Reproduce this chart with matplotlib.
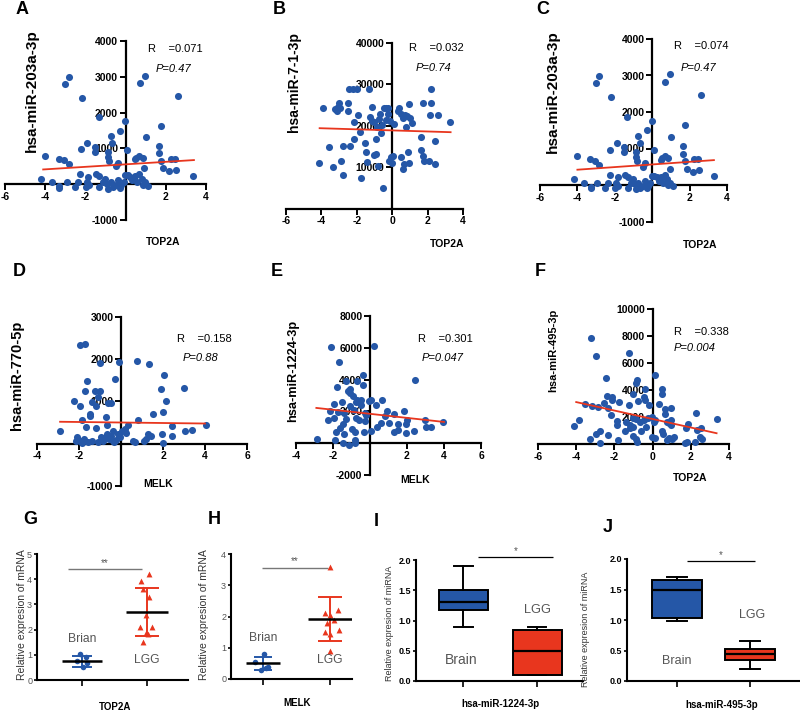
import numpy as np
import matplotlib
matplotlib.use("Agg")
import matplotlib.pyplot as plt

plt.rcParams["font.family"] = ["Liberation Sans", "DejaVu Sans"]

# ---- scatter data ----
# A / C : TOP2A vs hsa-miR-203a-3p
a_x = [-3.03, -2.82, -2.18, -1.34, -0.27, -0.02, 0.71, 0.96, 2.59, 1.75,
       1.01, -0.74, -1.90, -2.24, -1.51, -1.51, -0.67, -0.87, 0.07, -4.00,
       -3.33, -3.06, -2.82, -0.89, -0.81, -0.39, -0.50, 0.54, 0.67, 0.87,
       0.47, 0.94, 1.66, 1.65, 1.75, 1.85, 2.25, 2.45, 2.18, 2.49,
       3.33, -4.20, -3.66, -3.29, -3.29, -2.94, -2.52, -2.39, -2.25, -1.98,
       -1.92, -1.85, -1.48, -1.31, -1.31, -1.11, -1.01, -0.94, -0.87, -0.74,
       -0.64, -0.47, -0.37, -0.24, -0.10, -0.03, 0.10, 0.24, 0.34, 0.45,
       0.57, 0.67, 0.81, 0.97, 1.13, 0.87, -0.30, -1.82]
a_y = [2790, 2990, 2420, 1870, 1495, 1766, 2813, 3028, 2467, 1636,
       1318, 1336, 1140, 972, 1047, 906, 1140, 906, 953, 794,
       710, 664, 561, 766, 645, 598, 505, 729, 794, 729,
       692, 439, 1075, 860, 645, 439, 710, 710, 355, 402,
       234, 159, 65, -47, -93, 65, -75, 56, 280, -75,
       65, 206, 280, 224, -75, 65, 159, 19, -121, 65,
       -75, -28, 112, -28, 65, 252, 252, 206, 112, 224,
       65, 280, 159, 65, -37, -9, -93, -28]

# B : TOP2A vs hsa-miR-7-1-3p
b_x = [-4.11, -3.89, -3.59, -3.33, -3.21, -3.05, -3.10, -2.95, -3.00, -2.92,
       -2.77, -2.77, -2.50, -2.50, -2.39, -2.43, -2.21, -1.98, -2.17, -2.13,
       -1.91, -1.83, -1.79, -1.53, -1.50, -1.42, -1.31, -1.27, -1.16, -1.12,
       -1.01, -0.93, -0.90, -0.86, -1.01, -0.80, -0.75, -0.67, -0.60, -0.52,
       -0.64, -0.49, -0.37, -0.26, -0.34, -0.22, -0.11, -0.19, -0.07, 0.00,
       0.04, 0.11, 0.34, 0.41, 0.49, 0.52, 0.60, 0.67, 0.60, 0.71,
       0.79, 0.82, 0.93, 0.93, 0.90, 1.01, 1.12, 1.61, 1.64, 1.72,
       1.79, 1.72, 2.09, 2.17, 2.21, 2.13, 2.39, 2.43, 2.56, 3.25]
b_y = [11050, 24350, 14840, 10160, 24110, 24600, 23700, 24300, 25480, 11450,
       8150, 15080, 25480, 23470, 15160, 28870, 28870, 28870, 21050, 16850,
       22660, 18630, 7340, 15800, 13790, 11370, 28870, 22100, 24440, 21290,
       13060, 13230, 16850, 19680, 20890, 10400, 21690, 22900, 20320, 4920,
       18230, 24350, 24350, 24350, 21450, 22740, 21290, 11610, 12420, 11130,
       12820, 20400, 23470, 24350, 22900, 12420, 9600, 10810, 21930, 22500,
       19840, 22260, 25320, 10970, 13630, 21930, 20650, 17260, 14190, 12740,
       11450, 25480, 11450, 25480, 28870, 22580, 16450, 10810, 22660, 21050]

# D : MELK vs hsa-miR-770-5p
d_x = [-1.94, -1.71, -1.02, -0.10, 0.76, 1.35, 2.06, 2.98, 1.90, 2.16,
       1.98, 1.52, -1.62, -0.27, -1.71, -1.24, -1.02, -1.11, -2.25, -1.97,
       -1.40, -1.17, -0.63, -0.48, -1.49, -1.46, -1.87, -0.70, 0.79, 4.03,
       3.37, 3.05, 2.41, 2.44, -2.89, -1.65, -1.21, -0.67, -0.38, 0.03,
       0.32, 0.19, 1.43, 1.27, 1.97, -2.10, -1.97, -1.75, -1.56, -1.40,
       -1.11, -0.95, -0.86, -0.67, -0.57, -0.48, -0.32, -0.16, -0.06, 0.56,
       0.67, 1.08, 1.17, 2.00, -2.13, -1.84, -0.79, -0.22, 0.24, -0.40]
d_y = [2330, 2370, 1900, 1940, 1950, 1880, 1620, 1310, 1290, 1020,
       750, 690, 1480, 1530, 1240, 1250, 1240, 1100, 1020, 900,
       980, 900, 960, 960, 710, 660, 560, 630, 550, 450,
       330, 290, 410, 170, 290, 400, 370, 450, 310, 310,
       430, 350, 190, 230, 230, 150, 70, 110, 30, 70,
       30, 150, 70, 230, 110, 190, 30, 230, 150, 70,
       30, 70, 110, 10, 60, 20, 140, 90, 260, 50]

# E : MELK vs hsa-miR-1224-3p
e_x = [-2.11, 0.21, -1.66, 2.41, -1.79, -1.29, -1.18, -1.07, -0.68, -0.39,
       -0.36, -0.93, -0.61, -0.54, -0.46, -0.75, -1.93, -1.50, -1.07, -0.89,
       -0.04, 0.07, 0.32, 0.64, -2.14, -1.71, -2.29, -1.96, -1.39, -1.29,
       -0.75, -0.57, -0.21, -0.25, 0.93, 1.32, 1.86, 0.79, 0.57, 0.39,
       1.04, 1.50, 2.00, 1.96, 2.98, 3.96, 3.02, 3.29, 2.39, 1.93,
       1.29, 1.50, 0.04, -0.32, -0.79, -1.46, -1.61, -1.82, -1.39, -1.00,
       -2.89, -1.89, -1.48, -1.11, -0.79, -0.82, -0.68, -1.07, -0.50, -0.29]
e_y = [6060, 6100, 5080, 3980, 3520, 3920, 3270, 3400, 3900, 4270,
       3630, 2940, 2630, 2520, 2380, 2560, 2480, 2560, 2310, 2060,
       2630, 2730, 2420, 2730, 2000, 1980, 1480, 1600, 1900, 1520,
       1580, 1480, 1790, 1400, 2040, 1850, 2000, 1690, 1270, 1020,
       1270, 1210, 1420, 1170, 1440, 1350, 980, 980, 770, 650,
       690, 810, 730, 690, 690, 1170, 960, 690, 600, 860,
       270, 190, 20, -100, 190, -20, 2730, 3150, 2690, 1900]

# F : TOP2A vs hsa-miR-495-3p
f_x = [-3.21, -2.95, -1.26, 0.12, -2.46, -0.84, -0.88, 0.47, 0.49, -2.39,
       -2.14, -2.11, -1.05, -0.42, -0.46, -0.39, -0.74, -1.75, -2.53, -3.54,
       -3.19, -2.84, -2.35, -1.23, -0.21, 0.32, 0.63, 0.98, 0.63, -2.18,
       -1.86, -1.89, -1.40, -1.19, -1.05, -0.88, -0.67, -0.46, -0.25, -0.04,
       0.07, 0.14, -1.44, -1.16, -1.02, -0.63, -0.32, -3.86, -4.11, -2.74,
       -2.98, -2.35, -3.30, -2.74, -1.82, -0.88, -0.81, -1.05, -0.04, 0.11,
       0.49, 0.56, 0.74, 0.84, 1.02, 1.12, 0.88, 0.95, 0.74, 0.95,
       1.75, 1.86, 1.68, 1.82, 2.21, 2.26, 2.32, 2.54, 2.49, 2.60, 3.37]
f_y = [7880, 6510, 6710, 5140, 4860, 4770, 4520, 4100, 3730, 3550,
       3450, 3250, 3700, 4100, 3450, 3250, 3180, 3110, 3030, 2980,
       2800, 2730, 2680, 2860, 2910, 2980, 2610, 2680, 2190, 2140,
       1740, 1440, 1620, 1390, 1940, 1840, 1620, 1790, 1940, 1990,
       1620, 1790, 990, 1190, 1290, 940, 1290, 1810, 1340, 970,
       750, 700, 350, 70, 320, 370, 120, 570, 520, 470,
       940, 750, 300, 470, 370, 520, 1540, 1790, 1620, 1390,
       1190, 1490, 50, 120, 150, 2310, 1040, 1190, 520, 370, 1860]

# fitted lines: (slope, intercept) and x span
fit_a, span_a = (35, 555), (-4.1, 3.4)
fit_b, span_b = (-130, 18900), (-4.1, 3.3)
fit_c, span_c = (36, 563), (-4.0, 3.3)
fit_d, span_d = (-6, 500), (-2.9, 4.0)
fit_e, span_e = (-128, 1840), (-2.9, 4.0)
fit_f, span_f = (-314, 1850), (-4.0, 3.35)

stats_text = {"A": ("0.071", "0.47"), "B": ("0.032", "0.74"), "C": ("0.074", "0.47"),
              "D": ("0.158", "0.88"), "E": ("0.301", "0.047"), "F": ("0.338", "0.004")}

# ---- qPCR dot plots (G, H) ----
g_brain_y = [1.03, 0.91, 0.75, 0.67, 0.52]
g_brain_dx = [-0.03, 0.06, -0.08, 0.08, 0.02]
g_lgg_y = [4.20, 3.93, 3.60, 3.30, 2.58, 2.10, 2.10, 1.87, 1.82, 1.50]
g_lgg_dx = [0.03, -0.09, -0.06, 0.03, -0.02, -0.11, 0.08, -0.02, 0.02, -0.06]
g_mean = [0.74, 2.70]
g_sd = [0.215, 0.97]

h_brain_y = [0.80, 0.55, 0.40, 0.35, 0.30]
h_brain_dx = [0.01, -0.12, 0.07, 0.04, -0.03]
h_lgg_y = [3.58, 2.20, 2.10, 2.05, 1.90, 1.80, 1.57, 1.50, 1.45, 0.90]
h_lgg_dx = [0.00, 0.12, -0.08, 0.00, 0.06, -0.05, 0.13, -0.08, 0.00, 0.00]
h_mean = [0.50, 1.92]
h_sd = [0.20, 0.70]

# ---- box plots (I, J): whislo, q1, med, q3, whishi ----
i_brain = [0.90, 1.17, 1.30, 1.51, 1.90]
i_lgg = [0.10, 0.10, 0.50, 0.85, 0.90]
j_brain = [0.98, 1.03, 1.50, 1.65, 1.70]
j_lgg = [0.20, 0.35, 0.45, 0.52, 0.66]

BLUE = "#2557a7"
RED = "#e8361e"
GREY = "#555555"
W, H = 800, 714

fig = plt.figure(figsize=(8, 7.14), dpi=100)


def rect(x0, x1, y0, y1):
    # pixel box -> figure fraction
    return [x0 / W, 1 - y1 / H, (x1 - x0) / W, (y1 - y0) / H]


def ftext(x, y, s, **kw):
    kw.setdefault("ha", "center")
    kw.setdefault("va", "center")
    fig.text(x / W, 1 - y / H, s, **kw)


def scatter_panel(r, xs, ys, xlim, ylim, xt, xl, yt, yl, fit, span):
    ax = fig.add_axes(r)
    ax.patch.set_visible(False)
    ax.set_xlim(xlim)
    ax.set_ylim(ylim)
    ax.spines["top"].set_visible(False)
    ax.spines["right"].set_visible(False)
    ax.spines["left"].set_position(("data", 0))
    ax.spines["bottom"].set_position(("data", 0))
    for s in ("left", "bottom"):
        ax.spines[s].set_linewidth(1.6)
    ax.set_xticks(xt, xl)
    ax.set_yticks(yt, yl)
    ax.tick_params(width=1.4, length=4, labelsize=7.5, pad=1.5)
    for lab in ax.get_xticklabels() + ax.get_yticklabels():
        lab.set_fontweight("bold")
    ax.scatter(xs, ys, s=26, color=BLUE, linewidths=0, zorder=3, clip_on=False)
    fx = np.array(span)
    ax.plot(fx, fit[0] * fx + fit[1], color=RED, lw=1.3, zorder=4)
    return ax


def labs(ticks, hide=(0,)):
    return ["" if t in hide else str(t) for t in ticks]


xt6 = [-6, -4, -2, 0, 2, 4]
xt4 = [-4, -2, 0, 2, 4, 6]

# A
yt = [-1000, 0, 1000, 2000, 3000, 4000]
scatter_panel(rect(5, 206, 41, 220), a_x, a_y, (-6, 4), (-1000, 4000),
              xt6, labs(xt6), yt, labs(yt), fit_a, span_a)
# B
yt = [10000, 20000, 30000, 40000]
scatter_panel(rect(286, 463, 43, 208.7), b_x, b_y, (-6, 4), (0, 40000),
              xt6, labs(xt6, ()), yt, labs(yt), fit_b, span_b)
# C
yt = [-1000, 0, 1000, 2000, 3000, 4000]
scatter_panel(rect(540, 727, 39, 221.5), a_x, a_y, (-6, 4), (-1000, 4000),
              xt6, labs(xt6), yt, labs(yt), fit_c, span_c)
# D
yt = [-1000, 0, 1000, 2000, 3000]
scatter_panel(rect(37, 247, 317, 485.8), d_x, d_y, (-4, 6), (-1000, 3000),
              xt4, labs(xt4), yt, labs(yt), fit_d, span_d)
# E
yt = [-2000, 0, 2000, 4000, 6000, 8000]
scatter_panel(rect(296, 481, 316, 474.8), e_x, e_y, (-4, 6), (-2000, 8000),
              xt4, labs(xt4), yt, labs(yt), fit_e, span_e)
# F
yt = [2000, 4000, 6000, 8000, 10000]
scatter_panel(rect(538, 729, 309, 444), f_x, f_y, (-6, 4), (0, 10000),
              xt6, labs(xt6, ()), yt, labs(yt), fit_f, span_f)

# scatter labels
ylab = [(32, 91, "hsa-miR-203a-3p", 11), (294, 82, "hsa-miR-7-1-3p", 10),
        (553, 92, "hsa-miR-203a-3p", 11), (17, 375, "hsa-miR-770-5p", 10.5),
        (293, 371, "hsa-miR-1224-3p", 9.2), (553, 350, "hsa-miR-495-3p", 8)]
for x, y, s, fs in ylab:
    ftext(x, y, s, rotation=90, fontsize=fs, fontweight="bold")
for x, y, s in [(163, 242, "TOP2A"), (447, 244, "TOP2A"), (700, 245, "TOP2A"),
                (158, 484, "MELK"), (415, 480, "MELK"), (690, 478, "TOP2A")]:
    ftext(x, y, s, fontsize=7.5, fontweight="bold")
for key, (rx, ry, px, py) in {"A": (148, 49, 156, 69), "B": (409, 48, 416, 68),
                              "C": (674, 46, 681, 68), "D": (177, 339, 183, 358),
                              "E": (418, 339, 422, 358), "F": (674, 332, 674, 348)}.items():
    r, p = stats_text[key]
    ftext(rx, ry, "R    =" + r, ha="left", fontsize=8)
    ftext(px, py, "P=" + p, ha="left", fontsize=8, style="italic")

for x, y, s in [(22, 10, "A"), (279, 10, "B"), (543, 10, "C"),
                (19, 272, "D"), (277, 272, "E"), (540, 271, "F"),
                (30, 520, "G"), (214, 520, "H"), (376, 522, "I"), (608, 527, "J")]:
    ftext(x, y, s, fontsize=13, fontweight="bold")


def base_axes(r, xlim, ylim, yt, ylabels, bold):
    ax = fig.add_axes(r)
    ax.patch.set_visible(False)
    ax.spines["top"].set_visible(False)
    ax.spines["right"].set_visible(False)
    for s in ("left", "bottom"):
        ax.spines[s].set_linewidth(1.5)
    ax.set_yticks(yt, ylabels)
    ax.tick_params(axis="x", width=1.2, length=4)
    ax.tick_params(axis="y", width=1.2, length=2.5, labelsize=6.5, pad=1)
    for lab in ax.get_yticklabels():
        lab.set_fontweight("bold" if bold else "normal")
        lab.set_color("black" if bold else GREY)
    return ax


def finish(ax, xlim, ylim):
    ax.set_xticks([0, 1], ["", ""])
    ax.set_xlim(xlim)
    ax.set_ylim(ylim)


def dot_panel(r, xlim, ylim, yt, by, bdx, ly, ldx, mean, sd, mw, caps, sig):
    ax = base_axes(r, xlim, ylim, yt, [str(t) for t in yt], False)
    ax.scatter(np.array(bdx), by, s=16, color=BLUE, marker="o", linewidths=0, zorder=3)
    ax.scatter(1 + np.array(ldx), ly, s=18, color=RED, marker="^", linewidths=0, zorder=3)
    for i, c in enumerate([BLUE, RED]):
        ax.errorbar(i, mean[i], yerr=sd[i], color=c, lw=1.4, capsize=caps[i],
                    capthick=1.4, zorder=4)
        ax.hlines(mean[i], i - mw[i], i + mw[i], color="black", lw=1.8, zorder=5)
    ax.hlines(sig[2], sig[0], sig[1], color="#777777", lw=1, clip_on=False)
    ax.text((sig[0] + sig[1]) / 2, sig[2] + 0.05, "**", ha="center", va="bottom",
            fontsize=7, color=GREY)
    finish(ax, xlim, ylim)
    return ax


g = dot_panel(rect(37, 188, 554, 680), (-0.69, 1.63), (0, 5), [0, 1, 2, 3, 4, 5],
              g_brain_y, g_brain_dx, g_lgg_y, g_lgg_dx, g_mean, g_sd,
              (0.31, 0.33), (7.5, 8.5), (-0.22, 0.92, 4.4))
g.text(0, 1.63, "Brian", ha="center", va="center", fontsize=8.7, color=GREY)
g.text(1, 0.8, "LGG", ha="center", va="center", fontsize=8.7, color=GREY)

h = dot_panel(rect(231, 352, 554, 679), (-0.48, 1.33), (0, 4), [0, 1, 2, 3, 4],
              h_brain_y, h_brain_dx, h_lgg_y, h_lgg_dx, h_mean, h_sd,
              (0.25, 0.33), (6.8, 8.5), (-0.01, 0.97, 3.55))
h.text(0, 1.31, "Brian", ha="center", va="center", fontsize=8.7, color=GREY)
h.text(1, 0.61, "LGG", ha="center", va="center", fontsize=8.7, color=GREY)


def box_panel(r, xlim, brain, lgg, width, capw, sig):
    yt = [0.0, 0.5, 1.0, 1.5, 2.0]
    ax = base_axes(r, xlim, (0, 2), yt, ["%.1f" % t for t in yt], True)
    stats = []
    for q in (brain, lgg):
        stats.append(dict(whislo=q[0], q1=q[1], med=q[2], q3=q[3], whishi=q[4], fliers=[]))
    bp = ax.bxp(stats, positions=[0, 1], widths=width, patch_artist=True,
                showfliers=False, capwidths=capw, manage_ticks=False,
                boxprops=dict(linewidth=1.4, edgecolor="black"),
                medianprops=dict(color="black", linewidth=1.6),
                whiskerprops=dict(linewidth=1.4), capprops=dict(linewidth=1.4))
    for patch, c in zip(bp["boxes"], [BLUE, RED]):
        patch.set_facecolor(c)
    ax.hlines(sig[2], sig[0], sig[1], color="black", lw=0.9, clip_on=False)
    ax.text((sig[0] + sig[1]) / 2, sig[2] + 0.02, "*", ha="center", va="bottom",
            fontsize=7, color=GREY)
    finish(ax, xlim, (0, 2))
    return ax


bi = box_panel(rect(416, 583, 560, 681), (-0.64, 1.62), i_brain, i_lgg, 0.66, 0.25,
               (0.2, 1.22, 2.05))
bi.text(-0.03, 0.35, "Brain", ha="center", va="center", fontsize=10, color=GREY)
bi.text(1, 1.17, "LGG", ha="center", va="center", fontsize=9.2, color=GREY)

bj = box_panel(rect(627, 800, 559, 681), (-0.68, 1.68), j_brain, j_lgg, 0.68, 0.28,
               (0.14, 1.07, 1.96))
bj.text(0, 0.33, "Brain", ha="center", va="center", fontsize=9, color=GREY)
bj.text(1.03, 1.09, "LGG", ha="center", va="center", fontsize=9, color=GREY)

# bottom-row axis titles
for x, y, s, fs in [(22, 615, "Relative expresion of mRNA", 7.5),
                    (204, 615, "Relative expresion of mRNA", 7.5),
                    (389, 623, "Relative expresion of miRNA", 6.5),
                    (585, 629, "Relative expresion of miRNA", 6.5)]:
    ftext(x, y, s, rotation=90, fontsize=fs, color="#333333")
for x, y, s in [(115, 707, "TOP2A"), (297, 703, "MELK"),
                (500, 704, "hsa-miR-1224-3p"), (722, 705, "hsa-miR-495-3p")]:
    ftext(x, y, s, fontsize=7, fontweight="bold")

fig.savefig("out.png", dpi=100)
